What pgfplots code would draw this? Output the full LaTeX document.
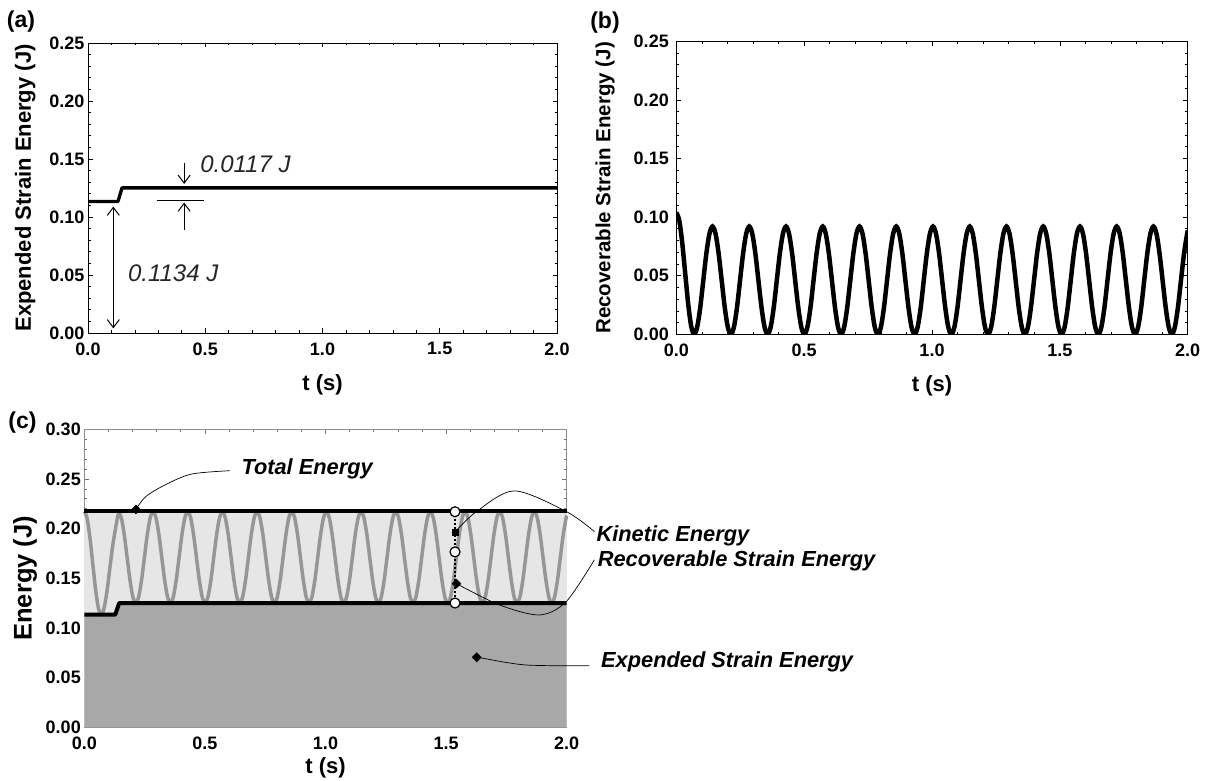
\documentclass[border=0pt]{standalone}
\usepackage{fontspec}
\setmainfont{Liberation Sans}
\usepackage{pgfplots}
\pgfplotsset{compat=1.18}
\usepackage{pgfplotstable}
\usetikzlibrary{arrows.meta}

\definecolor{darkfill}{RGB}{168,168,168}
\definecolor{lightfill}{RGB}{230,230,230}
\definecolor{graycurve}{RGB}{150,150,150}
\definecolor{boxgray}{RGB}{140,140,140}

% recoverable strain energy (J) vs t (s)
\pgfplotstableread[row sep=\\]{
t r\\
0 0.104\\ 0.0116 0.0970\\ 0.0232 0.0780\\ 0.0348 0.0520\\ 0.0465 0.0260\\ 0.0581 0.0070\\
0.0697 0\\ 0.0817 0.0062\\ 0.0937 0.0230\\ 0.1056 0.0460\\ 0.1176 0.0690\\ 0.1296 0.0858\\ 0.1416 0.0920\\ 0.1535 0.0858\\ 0.1655 0.0690\\ 0.1775 0.0460\\ 0.1895 0.0230\\ 0.2014 0.0062\\
0.2134 0\\ 0.2254 0.0062\\ 0.2374 0.0230\\ 0.2493 0.0460\\ 0.2613 0.0690\\ 0.2733 0.0858\\ 0.2853 0.0920\\ 0.2972 0.0858\\ 0.3092 0.0690\\ 0.3212 0.0460\\ 0.3332 0.0230\\ 0.3451 0.0062\\
0.3571 0\\ 0.3691 0.0062\\ 0.3811 0.0230\\ 0.3930 0.0460\\ 0.4050 0.0690\\ 0.4170 0.0858\\ 0.4290 0.0920\\ 0.4409 0.0858\\ 0.4529 0.0690\\ 0.4649 0.0460\\ 0.4769 0.0230\\ 0.4888 0.0062\\
0.5008 0\\ 0.5128 0.0062\\ 0.5248 0.0230\\ 0.5367 0.0460\\ 0.5487 0.0690\\ 0.5607 0.0858\\ 0.5727 0.0920\\ 0.5846 0.0858\\ 0.5966 0.0690\\ 0.6086 0.0460\\ 0.6206 0.0230\\ 0.6325 0.0062\\
0.6445 0\\ 0.6565 0.0062\\ 0.6685 0.0230\\ 0.6804 0.0460\\ 0.6924 0.0690\\ 0.7044 0.0858\\ 0.7164 0.0920\\ 0.7283 0.0858\\ 0.7403 0.0690\\ 0.7523 0.0460\\ 0.7643 0.0230\\ 0.7762 0.0062\\
0.7882 0\\ 0.8002 0.0062\\ 0.8122 0.0230\\ 0.8241 0.0460\\ 0.8361 0.0690\\ 0.8481 0.0858\\ 0.8601 0.0920\\ 0.8720 0.0858\\ 0.8840 0.0690\\ 0.8960 0.0460\\ 0.9080 0.0230\\ 0.9199 0.0062\\
0.9319 0\\ 0.9439 0.0062\\ 0.9559 0.0230\\ 0.9678 0.0460\\ 0.9798 0.0690\\ 0.9918 0.0858\\ 1.0038 0.0920\\ 1.0157 0.0858\\ 1.0277 0.0690\\ 1.0397 0.0460\\ 1.0517 0.0230\\ 1.0636 0.0062\\
1.0756 0\\ 1.0876 0.0062\\ 1.0996 0.0230\\ 1.1115 0.0460\\ 1.1235 0.0690\\ 1.1355 0.0858\\ 1.1475 0.0920\\ 1.1594 0.0858\\ 1.1714 0.0690\\ 1.1834 0.0460\\ 1.1954 0.0230\\ 1.2073 0.0062\\
1.2193 0\\ 1.2313 0.0062\\ 1.2433 0.0230\\ 1.2552 0.0460\\ 1.2672 0.0690\\ 1.2792 0.0858\\ 1.2912 0.0920\\ 1.3031 0.0858\\ 1.3151 0.0690\\ 1.3271 0.0460\\ 1.3391 0.0230\\ 1.3510 0.0062\\
1.3630 0\\ 1.3750 0.0062\\ 1.3870 0.0230\\ 1.3989 0.0460\\ 1.4109 0.0690\\ 1.4229 0.0858\\ 1.4349 0.0920\\ 1.4468 0.0858\\ 1.4588 0.0690\\ 1.4708 0.0460\\ 1.4828 0.0230\\ 1.4947 0.0062\\
1.5067 0\\ 1.5187 0.0062\\ 1.5307 0.0230\\ 1.5426 0.0460\\ 1.5546 0.0690\\ 1.5666 0.0858\\ 1.5786 0.0920\\ 1.5905 0.0858\\ 1.6025 0.0690\\ 1.6145 0.0460\\ 1.6265 0.0230\\ 1.6384 0.0062\\
1.6504 0\\ 1.6624 0.0062\\ 1.6744 0.0230\\ 1.6863 0.0460\\ 1.6983 0.0690\\ 1.7103 0.0858\\ 1.7223 0.0920\\ 1.7342 0.0858\\ 1.7462 0.0690\\ 1.7582 0.0460\\ 1.7702 0.0230\\ 1.7821 0.0062\\
1.7941 0\\ 1.8061 0.0062\\ 1.8181 0.0230\\ 1.8300 0.0460\\ 1.8420 0.0690\\ 1.8540 0.0858\\ 1.8660 0.0920\\ 1.8779 0.0858\\ 1.8899 0.0690\\ 1.9019 0.0460\\ 1.9139 0.0230\\ 1.9258 0.0062\\
1.9378 0\\ 1.9498 0.0062\\ 1.9618 0.0230\\ 1.9737 0.0460\\ 1.9857 0.0690\\ 1.9977 0.0858\\ 2.0 0.0880\\
}\rec

% expended strain energy (J)
\pgfplotstableread{
t e
0 0.1134
0.128 0.1134
0.145 0.1251
2.0 0.1251
}\expd

\pgfplotsset{panel/.style={
  scale only axis, xmin=0, xmax=2, ymin=0,
  tick align=inside,
  xtick={0,0.5,1,1.5,2}, minor x tick num=4, minor y tick num=4,
  major tick length=4.5pt, minor tick length=2.5pt,
  /pgf/number format/assume math mode=true,
  ticklabel style={font=\fontsize{18}{20}\selectfont\bfseries},
  xticklabel style={yshift=-6pt, /pgf/number format/fixed, /pgf/number format/fixed zerofill, /pgf/number format/precision=1},
  yticklabel style={/pgf/number format/fixed, /pgf/number format/fixed zerofill, /pgf/number format/precision=2},
  label style={font=\fontsize{22}{24}\selectfont\bfseries},
  axis line style={line width=0.9pt},
  every tick/.style={black, line width=0.7pt},
}}

\begin{document}
\begin{tikzpicture}
\useasboundingbox (0pt,0pt) rectangle (1208pt,781pt);

% ---------- (a) ----------
\begin{axis}[panel, at={(88pt,448pt)}, anchor=south west, width=469pt, height=290pt,
  ymax=0.25, ytick={0,0.05,0.1,0.15,0.2,0.25},
  xlabel={t (s)}, ylabel={Expended Strain Energy (J)},
  xlabel style={at={(axis description cs:0.5,-0.179)}, anchor=center},
  ylabel style={at={(axis description cs:-0.134,0.5)}, anchor=center}]
\addplot[black, line width=3.3pt, line join=round] table[x=t,y=e]{\expd};
\draw[line width=1pt, {Straight Barb[length=8pt,width=12pt]}-{Straight Barb[length=8pt,width=12pt]}]
  (axis cs:0.108,0.004) -- (axis cs:0.108,0.109);
\draw[line width=1.3pt] (axis cs:0.293,0.114) -- (axis cs:0.496,0.114);
\draw[line width=1pt, -{Straight Barb[length=8pt,width=12pt]}] (axis cs:0.41,0.1466) -- (axis cs:0.41,0.1285);
\draw[line width=1pt, -{Straight Barb[length=8pt,width=12pt]}] (axis cs:0.41,0.0888) -- (axis cs:0.41,0.1125);
\node[anchor=base west, inner sep=0pt, text=black!85, font=\fontsize{24}{26}\selectfont\itshape] at (axis cs:0.478,0.1382) {0.0117 J};
\node[anchor=base west, inner sep=0pt, text=black!85, font=\fontsize{24}{26}\selectfont\itshape] at (axis cs:0.17,0.0442) {0.1134 J};
\end{axis}

% ---------- (b) ----------
\begin{axis}[panel, at={(676.3pt,446.7pt)}, anchor=south west, width=511.4pt, height=293pt,
  ymax=0.25, ytick={0,0.05,0.1,0.15,0.2,0.25},
  xlabel={t (s)}, ylabel={Recoverable Strain Energy (J)},
  yticklabel style={xshift=-4pt},
  xlabel style={at={(axis description cs:0.5,-0.176)}, anchor=center},
  ylabel style={at={(axis description cs:-0.139,0.5)}, anchor=center, font=\fontsize{20.5}{22}\selectfont\bfseries}]
\addplot[black, line width=4.5pt, smooth] table[x=t,y=r]{\rec};
\end{axis}

% ---------- (c) ----------
\begin{axis}[panel, at={(84.3pt,53.7pt)}, anchor=south west, width=482.4pt, height=298pt,
  ymax=0.30, ytick={0,0.05,0.1,0.15,0.2,0.25,0.3}, clip=false,
  axis line style={boxgray, line width=0.9pt},
  every tick/.style={boxgray!80!black, line width=0.7pt},
  xlabel={t (s)}, ylabel={Energy (J)},
  xlabel style={at={(axis description cs:0.5,-0.135)}, anchor=center},
  ylabel style={at={(axis description cs:-0.123,0.5)}, anchor=center, font=\fontsize{25.5}{27}\selectfont\bfseries}]
\addplot[draw=none, fill=lightfill] coordinates {(0,0.218) (2,0.218)} \closedcycle;
\addplot[draw=none, fill=darkfill] table[x=t,y=e]{\expd} \closedcycle;
\addplot[graycurve, line width=3.5pt, smooth] table[x=t, y expr={\thisrow{r} + ((\thisrow{t}<0.128) ? 0.1134 : ((\thisrow{t}<0.145) ? (0.1134+0.0117*(\thisrow{t}-0.128)/0.017) : 0.1251))}]{\rec};
\addplot[black, line width=4pt, line join=round] table[x=t,y=e]{\expd};
\addplot[black, line width=4pt] coordinates {(0,0.218) (2,0.218)};
\addplot[black, line width=2.5pt, dash pattern=on 2pt off 2pt] coordinates {(1.537,0.218) (1.537,0.1251)};
% annotation leader curves
\draw[line width=0.7pt] plot[smooth] coordinates {(axis cs:0.603,0.2583) (axis cs:0.444,0.2549) (axis cs:0.333,0.2438) (axis cs:0.254,0.2321) (axis cs:0.214,0.2193)};
\draw[line width=0.7pt] plot[smooth] coordinates {(axis cs:1.537,0.1967) (axis cs:1.625,0.217) (axis cs:1.783,0.238) (axis cs:2.0,0.217) (axis cs:2.115,0.197)};
\draw[line width=0.7pt] plot[smooth] coordinates {(axis cs:1.543,0.1446) (axis cs:1.721,0.1232) (axis cs:1.887,0.1131) (axis cs:1.998,0.1265) (axis cs:2.115,0.1687)};
\draw[line width=0.7pt] plot[smooth] coordinates {(axis cs:1.627,0.0705) (axis cs:1.652,0.0695) (axis cs:1.832,0.0627) (axis cs:2.094,0.062)};
\addplot[only marks, mark=*, mark size=5pt, mark options={fill=white, draw=black, line width=1.2pt}] coordinates {(1.537,0.217) (1.537,0.1766) (1.537,0.1251)};
\addplot[only marks, mark=square*, mark size=3pt, black] coordinates {(1.537,0.1967)};
\addplot[only marks, mark=square*, mark size=3.2pt, black, mark options={rotate=45}] coordinates {(1.543,0.1446) (1.627,0.0705) (0.214,0.2193)};
\node[anchor=base west, inner sep=0pt, font=\fontsize{21.8}{24}\selectfont\bfseries\itshape] at (axis cs:0.651,0.2549) {Total Energy};
\node[anchor=base west, inner sep=0pt, font=\fontsize{21.8}{24}\selectfont\bfseries\itshape] at (axis cs:2.123,0.1869) {Kinetic Energy};
\node[anchor=base west, inner sep=0pt, font=\fontsize{21.8}{24}\selectfont\bfseries\itshape] at (axis cs:2.128,0.1617) {Recoverable Strain Energy};
\node[anchor=base west, inner sep=0pt, font=\fontsize{21.8}{24}\selectfont\bfseries\itshape] at (axis cs:2.142,0.0604) {Expended Strain Energy};
\end{axis}

% panel letters
\node[font=\fontsize{23}{25}\selectfont\bfseries] at (21pt,759pt) {(a)};
\node[font=\fontsize{23}{25}\selectfont\bfseries] at (605pt,758pt) {(b)};
\node[font=\fontsize{23}{25}\selectfont\bfseries] at (22.5pt,358pt) {(c)};
\end{tikzpicture}
\end{document}
